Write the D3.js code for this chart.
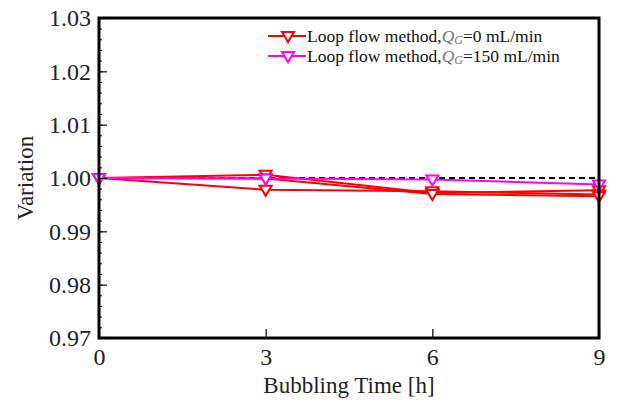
<!DOCTYPE html>
<html>
<head>
<meta charset="utf-8">
<script src="https://cdn.jsdelivr.net/npm/d3@7/dist/d3.min.js"></script>
<style>
  html, body { margin: 0; padding: 0; background: #fff; }
  svg { display: block; }
</style>
</head>
<body>
<svg id="chart" width="618" height="407"></svg>
<script>
// Bubbling time (h)
const hours = [0, 3, 6, 9];
// Normalised variation, Q_G = 0 mL/min (three runs)
const runQ0a = [1.0000, 1.0006, 0.9972, 0.9977];
const runQ0b = [1.0000, 0.9978, 0.9975, 0.9969];
const runQ0c = [1.0000, 0.9999, 0.9970, 0.9966];
// Normalised variation, Q_G = 150 mL/min
const runQ150 = [1.0000, 0.9999, 0.9997, 0.9988];
// Axis ticks
const xTicks = [0, 3, 6, 9];
const yTicks = [0.97, 0.98, 0.99, 1.00, 1.01, 1.02, 1.03];
const referenceLevel = 1.00;

const SERIF = "'Liberation Serif', 'Times New Roman', Times, 'DejaVu Serif', serif";

const svg = d3.select("#chart").attr("font-family", SERIF);
const margin = { left: 99, right: 19, top: 18, bottom: 69 };
const W = 618, H = 407;

const x = d3.scaleLinear().domain([0, 9]).range([margin.left, W - margin.right]);
const y = d3.scaleLinear().domain([0.97, 1.03]).range([H - margin.bottom, margin.top]);

// Reference dashed line at 1.00
svg.append("line")
  .attr("x1", x(0)).attr("x2", x(9))
  .attr("y1", y(referenceLevel)).attr("y2", y(referenceLevel))
  .attr("stroke", "#000").attr("stroke-width", 2)
  .attr("stroke-dasharray", "6,4");

const series = [
  { values: runQ0a, color: "#ff0000" },
  { values: runQ0b, color: "#ff0000" },
  { values: runQ0c, color: "#ff0000" },
  { values: runQ150, color: "#ff00ff" }
];

const line = d3.line().x(d => x(d[0])).y(d => y(d[1]));
const tri = "M-6,-4L6,-4L0,6Z";

series.forEach(s => {
  const pts = hours.map((h, i) => [h, s.values[i]]);
  svg.append("path")
    .attr("d", line(pts))
    .attr("fill", "none")
    .attr("stroke", s.color)
    .attr("stroke-width", 2);
});
series.forEach(s => {
  const pts = hours.map((h, i) => [h, s.values[i]]);
  svg.append("g").selectAll("path").data(pts).join("path")
    .attr("d", tri)
    .attr("transform", d => `translate(${x(d[0])},${y(d[1])})`)
    .attr("fill", "#fff")
    .attr("stroke", s.color)
    .attr("stroke-width", 2);
});

// Axes with inward ticks
const yAxis = d3.axisLeft(y).tickValues(yTicks).tickSize(-8).tickFormat(d3.format(".2f")).tickPadding(8);
const yMinor = d3.axisLeft(y).tickValues(d3.range(0, 31).map(i => 0.97 + i * 0.002)).tickSize(-3).tickFormat("");
const xAxis = d3.axisBottom(x).tickValues(xTicks).tickSize(-9).tickFormat(d3.format("d")).tickPadding(10);

const gy = svg.append("g").attr("transform", `translate(${margin.left},0)`).call(yAxis);
svg.append("g").attr("transform", `translate(${margin.left},0)`).call(yMinor)
  .call(g => g.select(".domain").remove())
  .selectAll("line").attr("stroke", "#000").attr("stroke-width", 1);
const gx = svg.append("g").attr("transform", `translate(0,${H - margin.bottom})`).call(xAxis);

[gx, gy].forEach(g => {
  g.attr("font-family", SERIF);
  g.select(".domain").remove();
  g.selectAll(".tick line").attr("stroke", "#000").attr("stroke-width", 1.2);
  g.selectAll(".tick text").attr("font-size", 24).attr("fill", "#222")
    .attr("font-family", SERIF);
});

// Frame
svg.append("rect")
  .attr("x", x(0)).attr("y", y(1.03))
  .attr("width", x(9) - x(0)).attr("height", y(0.97) - y(1.03))
  .attr("fill", "none").attr("stroke", "#000").attr("stroke-width", 3);

// Axis titles
svg.append("text")
  .attr("x", (x(0) + x(9)) / 2).attr("y", 393)
  .attr("text-anchor", "middle").attr("font-size", 23).attr("fill", "#222")
  .attr("font-family", SERIF)
  .text("Bubbling Time [h]");
svg.append("text")
  .attr("transform", `translate(33,${(y(0.97) + y(1.03)) / 2}) rotate(-90)`)
  .attr("text-anchor", "middle").attr("font-size", 23).attr("fill", "#222")
  .attr("font-family", SERIF)
  .text("Variation");

// Legend
const legendItems = [
  { color: "#ff0000", flow: "0" },
  { color: "#ff00ff", flow: "150" }
];
const lg = svg.append("g").attr("font-family", SERIF);
legendItems.forEach((it, i) => {
  const cy = 36 + i * 20;
  lg.append("line").attr("x1", 268).attr("x2", 306).attr("y1", cy).attr("y2", cy)
    .attr("stroke", it.color).attr("stroke-width", 2);
  lg.append("path").attr("d", tri).attr("transform", `translate(288,${cy})`)
    .attr("fill", "#fff").attr("stroke", it.color).attr("stroke-width", 2);
  const t = lg.append("text").attr("x", 307).attr("y", cy + 6)
    .attr("font-size", 17.5).attr("fill", "#111");
  t.append("tspan").text("Loop flow method,");
  t.append("tspan").attr("font-style", "italic").attr("fill", "#777").text("Q");
  t.append("tspan").attr("font-style", "italic").attr("fill", "#777")
    .attr("font-size", 12).attr("dy", 2).text("G");
  t.append("tspan").attr("dy", -2).text(`=${it.flow} mL/min`);
});
</script>
</body>
</html>
